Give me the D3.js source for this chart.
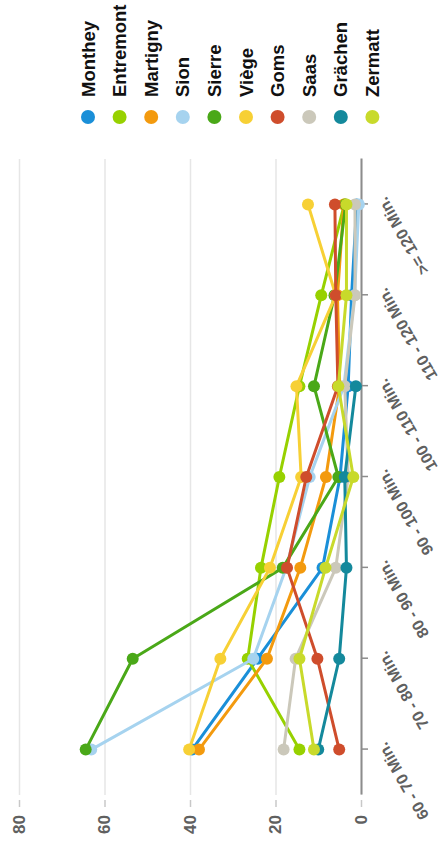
<!DOCTYPE html>
<html>
<head>
<meta charset="utf-8">
<script src="https://cdn.jsdelivr.net/npm/d3@7"></script>
<style>
  body { margin: 0; background: #fff; }
  #chart-container { width: 444px; height: 844px; }
  text { font-family: "Liberation Sans", Arial, sans-serif; font-weight: bold; }
</style>
</head>
<body>
<div id="chart-container"></div>
<script>
/* CONSTANTS AND GLOBALS */
// the chart is laid out as a normal 844 x 444 line chart, then turned a quarter to the left
const width = 444,
  height = 844,
  chartWidth = 844,
  chartHeight = 444,
  margin = { top: 19, bottom: 83, left: 49, right: 159 },
  radius = 6
  ;

/* DATA */
const categories = ["60 - 70 Min.", "70 - 80 Min.", "80 - 90 Min.", "90 - 100 Min.", "100 - 110 Min.", "110 - 120 Min.", ">= 120 Min."];
const yTicks = [0, 20, 40, 60, 80];

const seriesNames = ["Monthey", "Entremont", "Martigny", "Sion", "Sierre", "Viège", "Goms", "Saas", "Grächen", "Zermatt"];
const seriesColors = ["#1a8fd8", "#97d100", "#f39a0e", "#a6d3ef", "#4aa818", "#f7d035", "#cf4d2c", "#cbc8ba", "#14899c", "#c8da2b"];

const monthey = [39.5, 24.2, 9.0, 4.9, 3.0, 2.2, 1.0];
const entremont = [14.4, 26.5, 23.4, 19.1, 14.4, 9.3, 3.9];
const martigny = [37.9, 22.0, 14.2, 8.2, 5.0, 5.5, 4.0];
const sion = [63.1, 25.2, 17.5, 12.0, 4.0, 1.5, 0.5];
const sierre = [64.4, 53.4, 18.3, 5.3, 11.0, 6.2, 3.6];
const viege = [40.2, 32.9, 21.3, 14.0, 15.1, 5.9, 12.4];
const goms = [5.1, 10.2, 17.3, 12.8, 5.4, 5.9, 6.1];
const saas = [18.1, 15.3, 5.9, 3.0, 3.8, 1.4, 1.4];
const graechen = [10.0, 5.1, 3.4, 3.8, 1.2, null, null];
const zermatt = [11.0, 14.4, 8.3, 1.8, 5.3, 3.4, 3.4];

const seriesValues = [monthey, entremont, martigny, sion, sierre, viege, goms, saas, graechen, zermatt];

// table the library uses: one entry per series
const series = seriesNames.map((name, i) => ({
  name: name,
  color: seriesColors[i],
  values: categories.map((c, j) => ({ category: c, value: seriesValues[i][j] }))
}));

/* SCALES */
const xScale = d3.scalePoint()
  .domain(categories)
  .range([margin.left, chartWidth - margin.right])
  .padding(0.5);

const yScale = d3.scaleLinear()
  .domain([0, 80])
  .range([chartHeight - margin.bottom, margin.top]);

/* SVG */
const svg = d3.select("#chart-container")
  .append("svg")
  .attr("width", width)
  .attr("height", height);

// turn the whole chart -90 degrees
const chart = svg.append("g")
  .attr("transform", `translate(0, ${height}) rotate(-90)`);

// + GRID
chart.append("g")
  .attr("class", "grid")
  .attr("transform", `translate(${margin.left}, 0)`)
  .call(d3.axisLeft(yScale)
    .tickValues(yTicks)
    .tickSize(-(chartWidth - margin.left - margin.right))
    .tickFormat(""))
  .call(g => g.select(".domain").remove())
  .call(g => g.selectAll("line").attr("stroke", "#e6e6e6").attr("stroke-width", 1.5));

// + Y AXIS (ticks and labels only)
chart.append("g")
  .attr("class", "yAxis")
  .attr("transform", `translate(${margin.left - 5}, 0)`)
  .call(d3.axisLeft(yScale)
    .tickValues(yTicks)
    .tickSize(7)
    .tickPadding(8))
  .call(g => g.select(".domain").remove())
  .call(g => g.selectAll("line").attr("stroke", "#c8c8c8").attr("stroke-width", 1.5))
  .call(g => g.selectAll("text")
    .attr("fill", "#606060")
    .style("font-size", "17px"));

// + X AXIS
chart.append("g")
  .attr("class", "xAxis")
  .attr("transform", `translate(0, ${chartHeight - margin.bottom})`)
  .call(d3.axisBottom(xScale)
    .tickSize(7)
    .tickSizeOuter(0))
  .call(g => g.select(".domain").attr("stroke", "#8c8c8c").attr("stroke-width", 2))
  .call(g => g.selectAll("line").attr("stroke", "#8c8c8c").attr("stroke-width", 1.5))
  .call(g => g.selectAll("text")
    .attr("fill", "#606060")
    .style("font-size", "16px")
    .attr("text-anchor", "end")
    .attr("x", 0)
    .attr("y", 0)
    .attr("dy", "0.75em")
    .attr("transform", "translate(2, 15) rotate(-30)"));

// + LINES AND MARKERS
const lineGen = d3.line()
  .defined(d => d.value != null)
  .x(d => xScale(d.category))
  .y(d => yScale(d.value));

const seriesGroups = chart.selectAll(".series")
  .data(series)
  .join("g")
  .attr("class", "series");

seriesGroups.append("path")
  .attr("fill", "none")
  .attr("stroke", d => d.color)
  .attr("stroke-width", 3)
  .attr("stroke-linejoin", "round")
  .attr("d", d => lineGen(d.values));

seriesGroups.selectAll("circle")
  .data(d => d.values.filter(v => v.value != null).map(v => ({ ...v, color: d.color })))
  .join("circle")
  .attr("cx", d => xScale(d.category))
  .attr("cy", d => yScale(d.value))
  .attr("r", radius)
  .attr("fill", d => d.color);

// + LEGEND
const legendX = chartWidth - 117,
  legendY = 88,
  legendStep = 31.6;

const legend = chart.append("g")
  .attr("class", "legend")
  .selectAll("g")
  .data(series)
  .join("g")
  .attr("transform", (d, i) => `translate(${legendX}, ${legendY + i * legendStep})`);

legend.append("circle")
  .attr("r", 7)
  .attr("fill", d => d.color);

legend.append("text")
  .attr("x", 20)
  .attr("dy", "0.36em")
  .attr("fill", "#111")
  .style("font-size", "18.5px")
  .text(d => d.name);
</script>
</body>
</html>
